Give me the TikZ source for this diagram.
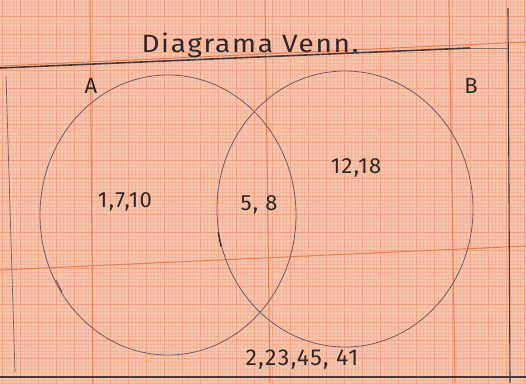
\documentclass[tikz,border=0pt]{standalone}
\usepackage{fontspec}
\setmainfont{Fira Sans}[LetterSpace=6]
\usetikzlibrary{shapes.geometric}
\definecolor{paper}{HTML}{F7C5AC}
\definecolor{fineline}{HTML}{F3B59B}
\definecolor{medline}{HTML}{EFA385}
\definecolor{majline}{HTML}{E67E50}
\definecolor{pencil}{HTML}{6E5C6C}
\definecolor{ink}{HTML}{2E2628}
\definecolor{frame}{HTML}{463A3E}
\tikzset{
  setcircle/.style={ellipse, draw=pencil, line width=0.8pt, inner sep=0pt},
  hand/.style={text=ink, font=\fontsize{22}{22}\selectfont, inner sep=0pt},
  framestroke/.style={draw=frame, line width=1.6pt},
}
\begin{document}
\begin{tikzpicture}[x=1pt,y=-1pt]
\useasboundingbox (0,0) rectangle (526,383);
\fill[paper] (0,0) rectangle (526,383);
\begin{scope}
\clip (0,0) rectangle (526,383);
\draw[fineline, line width=0.2pt, shift={(2,-2)}, step=3.6pt] (-18,-18) grid (540,400);
\draw[medline, line width=0.5pt, shift={(2,-2)}, step=18pt] (-18,-18) grid (540,400);
\draw[majline, line width=1pt] (0,66) -- (526,42);
\draw[majline, line width=1pt] (0,270) -- (526,246);
\draw[majline, line width=1pt] (90,0) -- (93,383);
\draw[majline, line width=1pt] (265,0) -- (270,383);
\draw[majline, line width=1pt] (449,0) -- (455,383);
\end{scope}
% frame
\coordinate (tl) at (0,68);
\coordinate (tm) at (470,48);
\coordinate (tr) at (508,48);
\coordinate (rt) at (508,8);
\coordinate (rb) at (510,383);
\coordinate (bl) at (0,377);
\coordinate (br) at (526,377);
\coordinate (lt) at (6,76);
\coordinate (lb) at (15,372);
\draw[framestroke] (tl) -- (tm);
\draw[frame, line width=1pt, opacity=0.6] (tm) -- (tr);
\draw[frame, line width=1.1pt] (rt) -- (rb);
\draw[framestroke] (bl) -- (br);
\draw[frame, line width=0.7pt, opacity=0.7] (lt) -- (lb);
% sets
\node[setcircle, minimum width=256pt, minimum height=280pt] (A) at (168,215) {};
\node[setcircle, minimum width=256pt, minimum height=276pt] (B) at (345,209) {};
\coordinate (ha1) at (56,280);
\coordinate (ha2) at (62,292);
\draw[pencil, line width=0.9pt] (ha1) -- (ha2);
\coordinate (hb1) at (218,232);
\coordinate (hb2) at (221,247);
\draw[ink, line width=1pt] (hb1) -- (hb2);
% labels
\node[hand, font=\fontsize{25}{25}\selectfont, xscale=1.12] (title) at (250,45) {Diagrama Venn.};
\node[hand] (la) at (91,86) {A};
\node[hand] (lb2) at (471,86) {B};
\node[hand] (onlyA) at (125,202) {1,7,10};
\node[hand] (both) at (259,205) {5, 8};
\node[hand] (onlyB) at (356,168) {12,18};
\node[hand, font=\fontsize{23}{23}\selectfont] (outside) at (302,360) {2,23,45, 41};
\end{tikzpicture}
\end{document}
